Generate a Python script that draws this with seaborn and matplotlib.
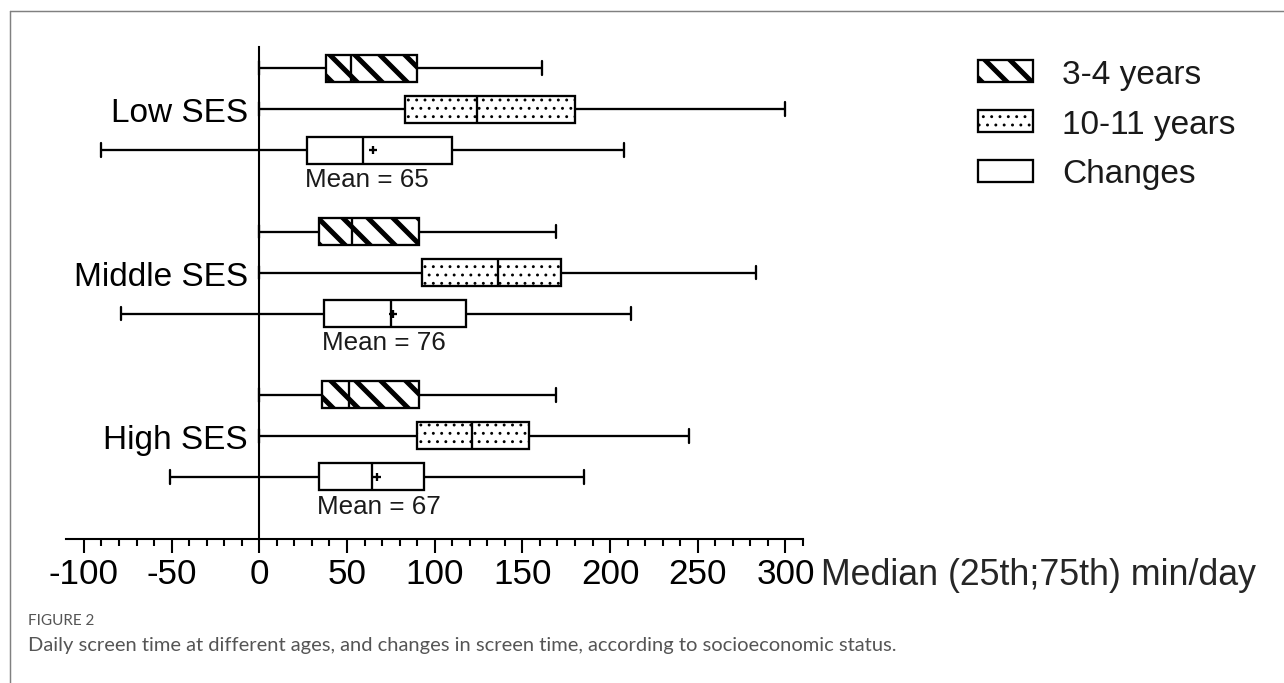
import numpy as np
import pandas as pd
import matplotlib
matplotlib.use("Agg")
import matplotlib.pyplot as plt
from matplotlib.patches import Patch
from matplotlib.lines import Line2D
from matplotlib.ticker import FixedLocator
import seaborn as sns

# values, min/day
ses_groups = ["Low SES", "Middle SES", "High SES"]
series_names = ["3-4 years", "10-11 years", "Changes"]
# min, 25th, median, 75th, max for each SES group
years_3_4 = [[0, 38, 52, 90, 161], [0, 34, 53, 91, 169], [0, 36, 51, 91, 169]]
years_10_11 = [[0, 83, 124, 180, 300], [0, 93, 136, 172, 283], [0, 90, 121, 154, 245]]
changes = [[-90, 27, 59, 110, 208], [-79, 37, 75, 118, 212], [-51, 34, 64, 94, 185]]
change_means = [65, 76, 67]
x_ticks = [-100, -50, 0, 50, 100, 150, 200, 250, 300]
hatches = ["\\\\", "...", ""]

# long table, one row per value
rows = []
for name, summaries in zip(series_names, [years_3_4, years_10_11, changes]):
    for ses, vals in zip(ses_groups, summaries):
        for v in vals:
            rows.append({"ses": ses, "series": name, "minutes": v})
df = pd.DataFrame(rows)

sns.set_style("ticks", {"axes.edgecolor": "black", "xtick.color": "black",
                        "ytick.color": "black", "text.color": "#1a1a1a"})
plt.rcParams["font.family"] = ["Liberation Sans", "DejaVu Sans"]
plt.rcParams["axes.unicode_minus"] = False
plt.rcParams["hatch.linewidth"] = 2.2

W, H, DPI = 1284, 684, 150
fig = plt.figure(figsize=(W / DPI, H / DPI), dpi=DPI, facecolor="white")
ax = fig.add_axes([66.4 / W, 1 - 540 / H, (803 - 66.4) / W, (540 - 48) / H])

sns.boxplot(data=df, x="minutes", y="ses", hue="series", order=ses_groups,
            hue_order=series_names, orient="h", whis=(0, 100), width=0.754,
            gap=0.33, palette=["white"] * 3, linecolor="black", linewidth=1.1,
            showfliers=False, legend=False, ax=ax)

# boxes sorted top to bottom -> (group, series) order
boxes = sorted(ax.patches, key=lambda p: p.get_path().vertices[:, 1].mean())
for i, box in enumerate(boxes):
    box.set_hatch(hatches[i % 3])
    if hasattr(box, "set_hatch_linewidth"):
        box.set_hatch_linewidth(2.4 if i % 3 == 0 else 0.6)

change_boxes = boxes[2::3]
mean_y = [(b.get_path().vertices[:, 1].min() + b.get_path().vertices[:, 1].max()) / 2
          for b in change_boxes]
sns.scatterplot(x=change_means, y=mean_y, marker="+", color="black", s=14,
                linewidth=1.1, zorder=5, legend=False, ax=ax)

for b, summ, m in zip(change_boxes, changes, change_means):
    ybot = b.get_path().vertices[:, 1].max()
    ax.annotate(f"Mean = {m}", xy=(summ[1] - 1, ybot), xytext=(0, -1.5),
                textcoords="offset points", ha="left", va="top", fontsize=12.5)

# axes
ax.set_xlim(-110, 310)
ax.set_ylim(2.633, -0.382)
ax.spines[["top", "right"]].set_visible(False)
ax.spines["left"].set_position(("data", 0))
ax.spines["left"].set_linewidth(1.0)
ax.spines["bottom"].set_linewidth(1.0)
ax.set_xticks(x_ticks)
ax.xaxis.set_minor_locator(FixedLocator(np.arange(-100, 311, 10)))
ax.tick_params(axis="x", which="major", length=6.7, width=1.0, labelsize=16.8, pad=2)
ax.tick_params(axis="x", which="minor", length=3.4, width=1.0)
ax.tick_params(axis="y", length=0, labelsize=16, pad=5.5)
ax.set_ylabel("")
ax.set_xlabel("Median (25th;75th) min/day", fontsize=17.2, ha="left", va="center")
ax.xaxis.set_label_coords((821 - 66.4) / (803 - 66.4), (540 - 576) / 492)

# legend
handles = [Patch(facecolor="white", edgecolor="black", hatch=h, linewidth=1.1, label=n)
           for h, n in zip(hatches, series_names)]
leg = fig.legend(handles=handles, loc="upper left", bbox_to_anchor=(978 / W, 1 - 60 / H),
                 frameon=False, fontsize=16, handlelength=1.65, handleheight=0.63,
                 handletextpad=0.87, labelspacing=0.56, borderpad=0, borderaxespad=0)
for i, p in enumerate(leg.get_patches()):
    if hasattr(p, "set_hatch_linewidth"):
        p.set_hatch_linewidth(2.4 if i == 0 else 0.6)

# page frame and caption
fig.add_artist(Line2D([10 / W, 10 / W], [0, 1 - 12 / H], transform=fig.transFigure,
                      color="#808080", lw=0.7))
fig.add_artist(Line2D([10 / W, 1], [1 - 12 / H, 1 - 12 / H], transform=fig.transFigure,
                      color="#808080", lw=0.7))
fig.text(28 / W, 1 - 621 / H, "FIGURE 2", fontsize=7.3, color="#555555",
         family=["Lato", "DejaVu Sans"], va="center")
fig.text(28 / W, 1 - 646 / H,
         "Daily screen time at different ages, and changes in screen time, according to socioeconomic status.",
         fontsize=9.7, color="#555555", family=["Lato", "DejaVu Sans"], va="center")

fig.savefig("out.png", dpi=DPI)
